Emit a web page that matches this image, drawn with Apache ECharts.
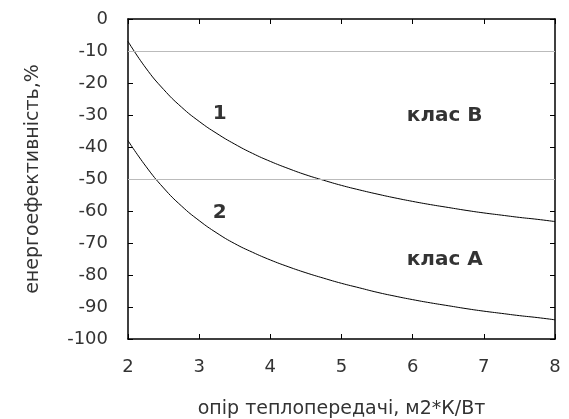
<!DOCTYPE html>
<html>
<head>
<meta charset="utf-8">
<script src="https://cdn.jsdelivr.net/npm/echarts@6/dist/echarts.min.js"></script>
<style>
  html, body { margin: 0; padding: 0; background: #fff; }
  #chart { width: 569px; height: 419px; }
</style>
</head>
<body>
<div id="chart"></div>
<script>
// опір теплопередачі (x), крок 0.25
const xValues = [2, 2.25, 2.5, 2.75, 3, 3.25, 3.5, 3.75, 4, 4.25, 4.5, 4.75, 5,
  5.25, 5.5, 5.75, 6, 6.25, 6.5, 6.75, 7, 7.25, 7.5, 7.75, 8];
// крива 1
const curve1 = [-7, -15.3, -22, -27.5, -32, -35.8, -39.1, -42, -44.5, -46.7, -48.7, -50.4, -52,
  -53.4, -54.7, -55.9, -57, -58, -58.9, -59.8, -60.6, -61.3, -62, -62.6, -63.3];
// крива 2
const curve2 = [-38, -46, -52.8, -58.4, -63, -66.9, -70.2, -72.9, -75.3, -77.4, -79.3, -81, -82.6,
  -84, -85.4, -86.6, -87.7, -88.7, -89.6, -90.5, -91.3, -92, -92.7, -93.3, -94];
// межі класів
const classLines = [-10, -50];
// підписи на графіку: [x, y, текст]
const notes = [
  [3.29, -29.6, '1'],
  [3.29, -60.5, '2'],
  [6.45, -30.2, 'клас В'],
  [6.45, -75.2, 'клас А']
];

const frame = { show: true, onZero: false, lineStyle: { color: '#000', width: 1.5 } };
const tickIn = { show: true, inside: true, length: 5, lineStyle: { color: '#000', width: 1 } };
const labelFont = { color: '#333', fontSize: 18, fontFamily: 'DejaVu Sans' };
const nameFont = { color: '#333', fontSize: 19, fontFamily: 'DejaVu Sans' };

let option = {
  animation: false,
  backgroundColor: '#fff',
  grid: { left: 128, right: 14, top: 19, bottom: 80, outerBoundsMode: 'none' },
  xAxis: [
    {
      type: 'value', min: 2, max: 8, interval: 1,
      name: 'опір теплопередачі, м2*К/Вт',
      nameLocation: 'middle', nameGap: 61,
      nameTextStyle: nameFont,
      axisLine: frame, axisTick: tickIn,
      axisLabel: Object.assign({ margin: 19 }, labelFont),
      splitLine: { show: false }
    },
    {
      type: 'value', min: 2, max: 8, interval: 1, position: 'top',
      axisLine: frame, axisTick: tickIn,
      axisLabel: { show: false }, splitLine: { show: false }
    }
  ],
  yAxis: [
    {
      type: 'value', min: -100, max: 0, interval: 10,
      name: 'енергоефективність,%',
      nameLocation: 'middle', nameGap: 85,
      nameTextStyle: nameFont,
      axisLine: frame, axisTick: tickIn,
      axisLabel: Object.assign({ margin: 20 }, labelFont),
      splitLine: { show: false }
    },
    {
      type: 'value', min: -100, max: 0, interval: 10, position: 'right',
      axisLine: frame, axisTick: tickIn,
      axisLabel: { show: false }, splitLine: { show: false }
    }
  ],
  series: [
    {
      name: '1', type: 'line', smooth: true, symbol: 'none',
      data: xValues.map((x, i) => [x, curve1[i]]),
      lineStyle: { color: '#000', width: 1 },
      markLine: {
        silent: true, symbol: 'none', label: { show: false },
        lineStyle: { color: '#bbb', type: 'solid', width: 1 },
        data: classLines.map(v => ({ yAxis: v }))
      },
      z: 3
    },
    {
      name: '2', type: 'line', smooth: true, symbol: 'none',
      data: xValues.map((x, i) => [x, curve2[i]]),
      lineStyle: { color: '#000', width: 1 },
      z: 3
    },
    {
      type: 'scatter', symbolSize: 0, silent: true,
      data: notes.map(n => ({ value: [n[0], n[1]], name: n[2] })),
      label: {
        show: true, position: 'inside', formatter: '{b}',
        color: '#000', fontSize: 20, fontWeight: 'bold', fontFamily: 'DejaVu Sans'
      }
    }
  ]
};

var chart = echarts.init(document.getElementById('chart'));
chart.setOption(option);
window.addEventListener('resize', () => {
  chart.resize();
});
</script>
</body>
</html>
